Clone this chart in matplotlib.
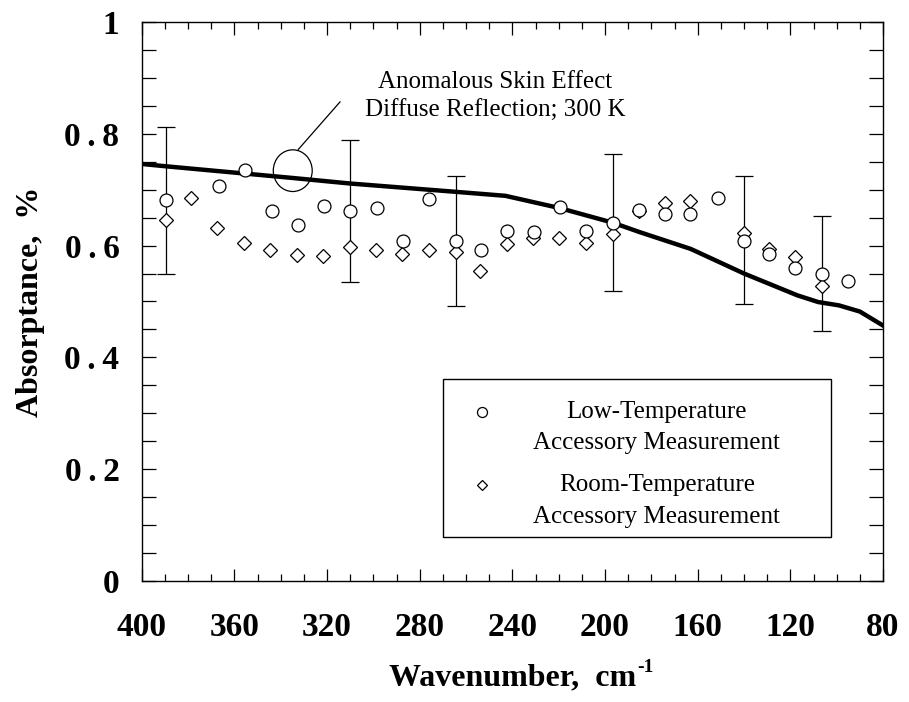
import matplotlib
matplotlib.use("Agg")
import matplotlib.pyplot as plt
import matplotlib.ticker as plticker
from matplotlib.patches import Ellipse, Rectangle
from matplotlib.lines import Line2D

# low-temperature accessory measurement (circles)
low_x = [389.4, 366.8, 355.4, 343.9, 332.4, 321.2, 310.1, 298.6, 287.1, 275.9,
         264.3, 253.7, 242.5, 230.7, 219.5, 208.0, 196.7, 185.5, 174.3, 163.2,
         151.4, 140.0, 129.1, 117.8, 106.3, 95.3]
low_y = [0.681, 0.707, 0.736, 0.662, 0.636, 0.671, 0.661, 0.667, 0.608, 0.683,
         0.608, 0.592, 0.626, 0.624, 0.669, 0.626, 0.641, 0.663, 0.656, 0.657,
         0.685, 0.608, 0.585, 0.560, 0.550, 0.536]

# room-temperature accessory measurement (diamonds)
room_x = [389.4, 378.9, 367.5, 355.8, 344.5, 333.1, 321.9, 310.1, 299.0, 287.5,
          276.1, 264.3, 254.0, 242.5, 231.0, 219.8, 208.0, 196.7, 185.5, 174.3,
          163.2, 140.0, 129.1, 117.8, 106.3]
room_y = [0.646, 0.685, 0.632, 0.604, 0.592, 0.584, 0.581, 0.598, 0.592, 0.585,
          0.592, 0.589, 0.555, 0.602, 0.613, 0.613, 0.605, 0.621, 0.662, 0.677,
          0.680, 0.622, 0.593, 0.580, 0.527]

# error bars on some low-temperature points
err_x = [389.4, 310.1, 264.3, 196.7, 140.0, 106.3]
err_y = [0.681, 0.661, 0.608, 0.641, 0.610, 0.550]
err_size = [0.131, 0.127, 0.116, 0.122, 0.115, 0.103]

# anomalous skin effect, diffuse reflection, 300 K
theory_x = [400, 390, 335, 310, 264, 243, 219.5, 196.7, 185, 163, 140, 117, 108, 99, 90, 80]
theory_y = [0.746, 0.742, 0.721, 0.711, 0.696, 0.689, 0.667, 0.641, 0.624, 0.594,
            0.550, 0.511, 0.499, 0.493, 0.482, 0.457]

serif = ["Liberation Serif", "DejaVu Serif"]
plt.rcParams["font.family"] = serif

fig = plt.figure(figsize=(9.09, 7.02), dpi=100)
ax = fig.add_axes([0.1559, 0.1724, 0.8155, 0.7963])

ax.errorbar(err_x, err_y, yerr=err_size, fmt="none", ecolor="black",
            elinewidth=0.9, capsize=6.5, capthick=0.9, zorder=1)
ax.plot(theory_x, theory_y, color="black", lw=3.2, zorder=2)
ax.plot(room_x, room_y, "D", ms=6.8, mfc="white", mec="black", mew=0.9, zorder=3)
ax.plot(low_x, low_y, "o", ms=9.3, mfc="white", mec="black", mew=0.9, zorder=4)

ax.set_xlim(400, 80)
ax.set_ylim(0, 1)
ax.xaxis.set_major_locator(plticker.MultipleLocator(40))
ax.xaxis.set_minor_locator(plticker.MultipleLocator(10))
ax.yaxis.set_major_locator(plticker.MultipleLocator(0.2))
ax.yaxis.set_minor_locator(plticker.MultipleLocator(0.05))


def ylab(v, pos):
    if abs(v) < 1e-9:
        return "0"
    if abs(v - 1) < 1e-9:
        return "1"
    return "0\u2009.\u2009%d" % round(v * 10)


ax.yaxis.set_major_formatter(plticker.FuncFormatter(ylab))
ax.tick_params(which="both", direction="in", top=True, right=True, width=0.9)
ax.tick_params(axis="x", which="major", length=9, pad=22)
ax.tick_params(axis="x", which="minor", length=5)
ax.tick_params(axis="y", which="major", length=10, pad=16)
ax.tick_params(axis="y", which="minor", length=10)
for lab in ax.get_xticklabels() + ax.get_yticklabels():
    lab.set_fontsize(24)
    lab.set_fontweight("bold")
for s in ax.spines.values():
    s.set_linewidth(1.0)

ax.set_xlabel("Wavenumber,  cm", fontsize=23, fontweight="bold")
ax.xaxis.set_label_coords(0.5, -0.148)
ax.set_ylabel("Absorptance,  %", fontsize=23, fontweight="bold")
ax.yaxis.set_label_coords(-0.13, 0.5)

# annotation with circle and leader line
ax.add_patch(Ellipse((334.8, 0.734), 16.8, 0.0746, fill=False, ec="black", lw=0.9, zorder=5))
ax.plot([332.4, 314.4], [0.772, 0.857], color="black", lw=0.9, zorder=5)
ax.text(247.5, 0.893, "Anomalous Skin Effect", fontsize=18, ha="center", va="center")
ax.text(247.5, 0.840, "Diffuse Reflection; 300 K", fontsize=18, ha="center", va="center")

# legend box
ax.add_patch(Rectangle((0.4065, 0.0787), 0.5233, 0.2827, transform=ax.transAxes,
                       fill=False, ec="black", lw=1.0, zorder=5))
ax.add_line(Line2D([0.4587], [0.3029], marker="o", ms=7.2, mfc="white", mec="black",
                   mew=0.9, transform=ax.transAxes))
ax.add_line(Line2D([0.4587], [0.1717], marker="D", ms=5.6, mfc="white", mec="black",
                   mew=0.9, transform=ax.transAxes))
ax.text(0.695, 0.3029, "Low-Temperature", transform=ax.transAxes, fontsize=18,
        ha="center", va="center")
ax.text(0.695, 0.2463, "Accessory Measurement", transform=ax.transAxes, fontsize=18,
        ha="center", va="center")
ax.text(0.695, 0.1717, "Room-Temperature", transform=ax.transAxes, fontsize=18,
        ha="center", va="center")
ax.text(0.695, 0.1150, "Accessory Measurement", transform=ax.transAxes, fontsize=18,
        ha="center", va="center")

# small "-1" superscript after the x label
fig.canvas.draw()
bb = ax.xaxis.label.get_window_extent().transformed(fig.transFigure.inverted())
fig.text(bb.x1 + 0.001, bb.y0 + 0.024, "-1", fontsize=14, fontweight="bold",
         ha="left", va="bottom")

fig.savefig("out.png", dpi=100)
